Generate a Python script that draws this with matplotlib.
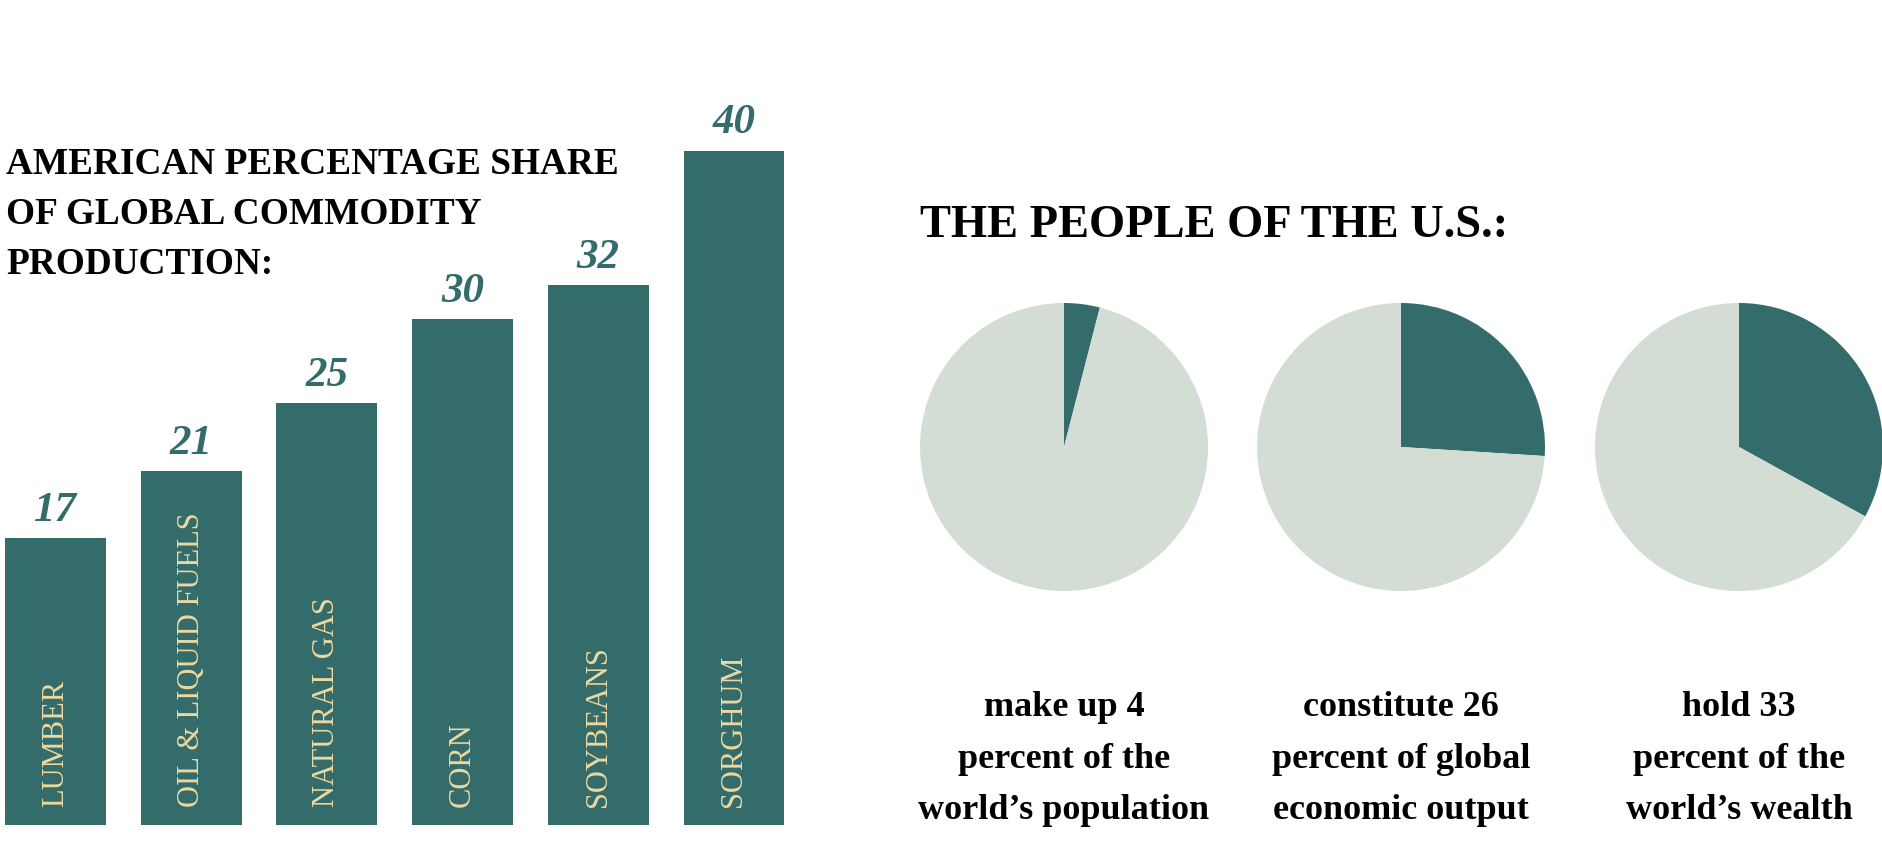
import matplotlib
matplotlib.use("Agg")
import matplotlib.pyplot as plt

# bar chart data
commodities = ["LUMBER", "OIL & LIQUID FUELS", "NATURAL GAS", "CORN", "SOYBEANS", "SORGHUM"]
us_share = [17, 21, 25, 30, 32, 40]

# pie chart data
pie_shares = [4, 26, 33]
pie_captions = [
    "make up 4\npercent of the\nworld\u2019s population",
    "constitute 26\npercent of global\neconomic output",
    "hold 33\npercent of the\nworld\u2019s wealth",
]

TEAL = "#346b6b"
PALE = "#d3ddd3"
CREAM = "#ecd9a0"

W, H = 1883, 844
fig = plt.figure(figsize=(W / 100, H / 100), dpi=100)
fig.patch.set_facecolor("white")


def px_axes(x0, y0, x1, y1):
    """Axes from pixel box (top-left origin)."""
    return fig.add_axes([x0 / W, 1 - y1 / H, (x1 - x0) / W, (y1 - y0) / H])


# ---- bars ----
ax = px_axes(0, 0, 800, 825)
pitch = 135.7
positions = list(range(len(commodities)))
ax.bar(positions, us_share, width=100.9 / pitch, color=TEAL)
ax.set_xlim(-55.5 / pitch, -55.5 / pitch + 800 / pitch)
ax.set_ylim(0, 825 / 16.86)
ax.axis("off")

for x, v, name in zip(positions, us_share, commodities):
    ax.annotate(str(v), (x, v), xytext=(0, 6), textcoords="offset points",
                ha="center", va="bottom", color=TEAL, fontsize=31,
                family="Liberation Serif", style="italic", weight="bold")
    ax.annotate(name, (x, 0), xytext=(0, 13), textcoords="offset points",
                ha="center", va="bottom", rotation=90, color=CREAM,
                fontsize=22, family="Liberation Serif")

title_lines = ["AMERICAN PERCENTAGE SHARE", "OF GLOBAL COMMODITY", "PRODUCTION:"]
for i, line in enumerate(title_lines):
    fig.text(6 / W, 1 - (165 + 50 * i) / H, line, ha="left", va="center",
             fontsize=26.8, family="Liberation Serif", weight="bold", color="black")

# ---- pies ----
fig.text(920 / W, 1 - 226 / H, "THE PEOPLE OF THE U.S.:", ha="left", va="center",
         fontsize=33.5, family="Liberation Serif", weight="bold", color="black")

centers = [1064, 1401, 1739]
r = 144
for cx, share, caption in zip(centers, pie_shares, pie_captions):
    pax = px_axes(cx - r, 447 - r, cx + r, 447 + r)
    pax.pie([share, 100 - share], colors=[TEAL, PALE], startangle=90,
            counterclock=False, radius=1.0)
    pax.set_xlim(-1, 1)
    pax.set_ylim(-1, 1)
    pax.set_aspect("equal")
    pax.axis("off")
    fig.text(cx / W, 1 - 759 / H, caption, ha="center", va="center",
             fontsize=26, family="Liberation Serif", weight="bold",
             linespacing=1.74, color="black")

fig.savefig("out.png", dpi=100, facecolor="white")
